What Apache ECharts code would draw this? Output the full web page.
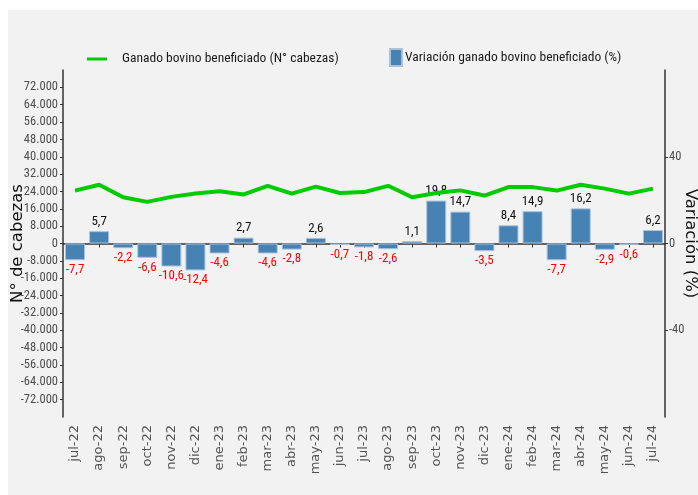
<!DOCTYPE html>
<html><head><meta charset="utf-8">
<script src="https://cdn.jsdelivr.net/npm/echarts@6/dist/echarts.min.js"></script>
<style>html,body{margin:0;padding:0;background:#fff}#c{width:698px;height:495px}</style>
</head><body><div id="c"></div>
<script>
const categories = ['jul-22','ago-22','sep-22','oct-22','nov-22','dic-22','ene-23','feb-23','mar-23','abr-23','may-23','jun-23','jul-23','ago-23','sep-23','oct-23','nov-23','dic-23','ene-24','feb-24','mar-24','abr-24','may-24','jun-24','jul-24'];
const cabezas = [24400,27100,21300,19200,21500,23100,24100,22600,26600,23000,26200,23300,23700,26600,21300,23300,24500,22100,26000,26000,24400,27100,25300,23000,25300];
const variacion = [-7.7,5.7,-2.2,-6.6,-10.6,-12.4,-4.6,2.7,-4.6,-2.8,2.6,-0.7,-1.8,-2.6,1.1,19.8,14.7,-3.5,8.4,14.9,-7.7,16.2,-2.9,-0.6,6.2];
const leftTicks = [-72000,-64000,-56000,-48000,-40000,-32000,-24000,-16000,-8000,0,8000,16000,24000,32000,40000,48000,56000,64000,72000];
const rightTicks = [-40,0,40];

const NARROW = '"Roboto Condensed","Liberation Sans Narrow",sans-serif';
function fmtThousands(v){
  const s = Math.abs(v).toString().replace(/\B(?=(\d{3})+(?!\d))/g,'.');
  return (v<0?'-':'')+s;
}
const chart = echarts.init(document.getElementById('c'), null, {renderer:'canvas'});
chart.setOption({
  backgroundColor:'#ffffff',
  animation:false,
  graphic:[{type:'rect',shape:{x:8,y:10,width:690,height:485},style:{fill:'#f2f2f2'},z:-10,silent:true}],
  legend:[
    {data:[{name:'Ganado bovino beneficiado (N° cabezas)',icon:'rect',itemStyle:{color:'#00cc00'}}],left:82,top:47,itemWidth:20,itemHeight:3,itemGap:10,
     textStyle:{fontFamily:NARROW,fontSize:13.5,color:'#1a1a1a',padding:[0,0,0,10]}},
    {data:[{name:'Variación ganado bovino beneficiado (%)',icon:'rect'}],left:384,top:43,itemWidth:12,itemHeight:17,
     textStyle:{fontFamily:NARROW,fontSize:13.5,color:'#1a1a1a',padding:[0,0,0,-2]}}
  ],
  grid:{left:63,right:33,top:70,bottom:78,containLabel:false,outerBoundsMode:'none'},
  xAxis:{type:'category',data:categories,
    axisLine:{show:true,lineStyle:{color:'#333',width:1.5}},
    axisTick:{show:true,alignWithLabel:true,length:4,lineStyle:{color:'#333'}},
    axisLabel:{rotate:90,interval:0,fontFamily:'DejaVu Sans',fontSize:13,color:'#555',margin:8}
  },
  yAxis:[
    {type:'value',min:-80000,max:80000,interval:8000,position:'left',
     name:'N° de cabezas',nameLocation:'middle',nameGap:37,nameRotate:90,nameMoveOverlap:false,
     nameTextStyle:{fontFamily:'DejaVu Sans',fontSize:16.5,color:'#111'},
     axisLine:{show:true,lineStyle:{color:'#333',width:1.5}},
     axisTick:{show:true,length:3,customValues:leftTicks,lineStyle:{color:'#333'}},
     axisLabel:{customValues:leftTicks,fontFamily:NARROW,fontSize:12.5,color:'#4d4d4d',margin:5,formatter:v=>fmtThousands(v)},
     splitLine:{show:false}
    },
    {type:'value',min:-80,max:80,interval:40,position:'right',
     name:'Variación (%)',nameLocation:'middle',nameGap:17,nameRotate:-90,nameMoveOverlap:false,
     nameTextStyle:{fontFamily:'DejaVu Sans',fontSize:16.5,color:'#111'},
     axisLine:{show:true,lineStyle:{color:'#333',width:1.5}},
     axisTick:{show:true,length:3,customValues:rightTicks,lineStyle:{color:'#333'}},
     axisLabel:{customValues:rightTicks,fontFamily:NARROW,fontSize:12.5,color:'#4d4d4d',margin:4},
     splitLine:{show:false}
    }
  ],
  series:[
    {name:'Variación ganado bovino beneficiado (%)',type:'bar',yAxisIndex:1,barCategoryGap:'17%',
     data:variacion.map(v=>({value:v,label:{position:v>=0?'top':'bottom',color:v>=0?'#111':'#ff0000'}})),
     itemStyle:{color:'#4682b4',borderColor:'#a8c2da',borderWidth:1},
     label:{show:true,distance:3,fontFamily:NARROW,fontSize:13,formatter:p=>p.value.toString().replace('.',',')},
     z:2},
    {name:'Ganado bovino beneficiado (N° cabezas)',type:'line',yAxisIndex:0,data:cabezas,
     symbol:'none',lineStyle:{color:'#00cc00',width:4},itemStyle:{color:'#00cc00'},z:3}
  ]
});
</script></body></html>
